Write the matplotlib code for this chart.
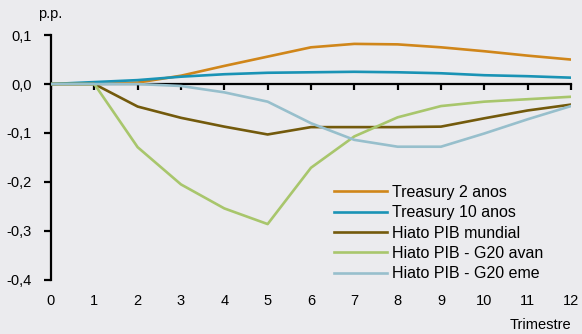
import matplotlib
matplotlib.use("Agg")
import matplotlib.pyplot as plt
from matplotlib.ticker import FuncFormatter

plt.rcParams['font.family'] = ['Liberation Sans', 'DejaVu Sans']

# data
trimestre = list(range(13))
treasury_2 = [0.0, 0.0, 0.003, 0.017, 0.037, 0.056, 0.075, 0.082, 0.081, 0.075, 0.067, 0.058, 0.050]
treasury_10 = [0.0, 0.004, 0.008, 0.015, 0.020, 0.023, 0.024, 0.025, 0.024, 0.022, 0.018, 0.016, 0.013]
hiato_mundial = [0.0, 0.0, -0.046, -0.069, -0.087, -0.103, -0.088, -0.088, -0.088, -0.087, -0.070, -0.054, -0.042]
hiato_avan = [0.0, 0.0, -0.129, -0.205, -0.254, -0.286, -0.171, -0.107, -0.068, -0.045, -0.036, -0.031, -0.026]
hiato_eme = [0.0, 0.0, 0.0, -0.004, -0.017, -0.036, -0.080, -0.114, -0.128, -0.128, -0.101, -0.072, -0.045]

series = [
    ("Treasury 2 anos", treasury_2, "#d0861a"),
    ("Treasury 10 anos", treasury_10, "#1a93b5"),
    ("Hiato PIB mundial", hiato_mundial, "#735a0c"),
    ("Hiato PIB - G20 avan", hiato_avan, "#a8c66c"),
    ("Hiato PIB - G20 eme", hiato_eme, "#97bfcc"),
]

bg = "#ebebee"
fs = 10.5

fig = plt.figure(figsize=(5.82, 3.34), dpi=100, facecolor=bg)
ax = fig.add_axes([0.0876, 0.162, 0.8934, 0.733], facecolor=bg)

for label, vals, col in series:
    ax.plot(trimestre, vals, color=col, lw=1.9, label=label, zorder=3)

ax.set_xlim(0, 12)
ax.set_ylim(-0.4, 0.1)
ax.set_yticks([0.1, 0.0, -0.1, -0.2, -0.3, -0.4])
ax.yaxis.set_major_formatter(FuncFormatter(lambda v, p: f"{v:.1f}".replace(".", ",").replace("-0,0", "0,0")))
ax.set_xticks(trimestre)

for s in ["top", "right"]:
    ax.spines[s].set_visible(False)
ax.spines["left"].set_linewidth(1.6)
# x axis line sits at zero, ticks hanging below, labels at the bottom
ax.spines["bottom"].set_position(("data", 0))
ax.spines["bottom"].set_linewidth(1.6)
ax.spines["bottom"].set_color("black")
ax.spines["bottom"].set_zorder(2)
ax.tick_params(axis="y", direction="out", length=5, width=1.6, pad=9, labelsize=fs)
ax.tick_params(axis="x", direction="out", length=4, width=1.6, labelbottom=False)

lab = ax.secondary_xaxis("bottom")
lab.set_xticks(trimestre)
lab.spines["bottom"].set_visible(False)
lab.tick_params(axis="x", length=0, pad=10, labelsize=fs)

fig.text(0.086, 0.958, "p.p.", ha="center", va="center", fontsize=fs)
fig.text(0.981, 0.027, "Trimestre", ha="right", va="center", fontsize=fs)

ax.legend(loc="upper left", bbox_to_anchor=(0.574, 0.446), bbox_transform=fig.transFigure,
          frameon=False, fontsize=11.5, handlelength=3.3, handletextpad=0.3,
          labelspacing=0.33, borderpad=0, borderaxespad=0)

fig.savefig("out.png", dpi=100, facecolor=bg)
